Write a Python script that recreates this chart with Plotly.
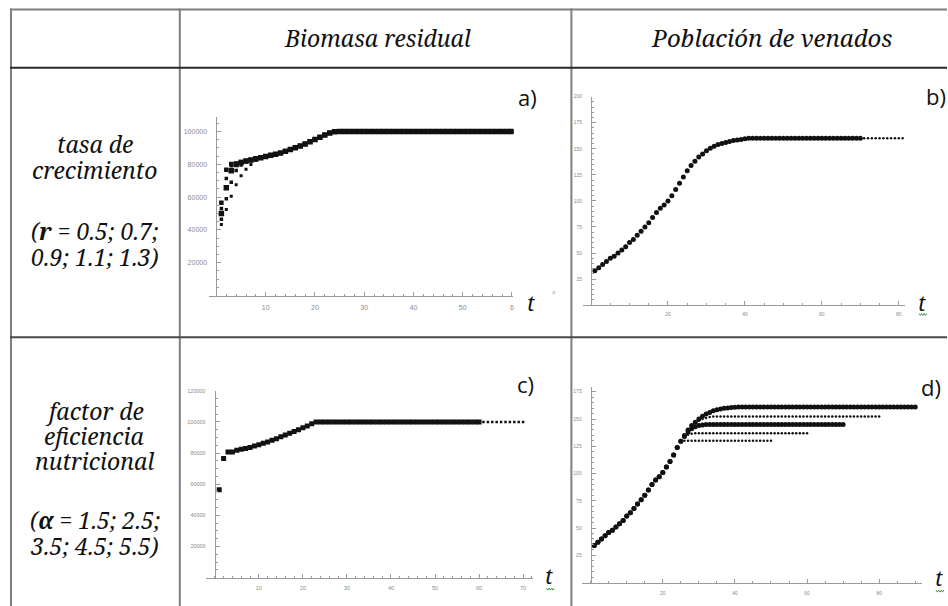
import plotly.graph_objects as go

W, H = 948, 606

# ---------------- DATA ----------------
# Panel a) Biomasa residual vs t, r = 0.5 .. 1.3
a_r_labels = ["r=0.5", "r=0.7", "r=0.9", "r=1.1", "r=1.3"]
a_early = [
    [43300, 52400, 60500, 67500, 73000, 77000, 79800, 82300, 83700],
    [46500, 59000, 69000, 76200, 79500, 81500],
    [50000, 65700, 76000, 79800, 81000],
    [53000, 71300, 79000, 80400],
    [56600, 76600, 80200],
]
a_common_t4_t24 = [80500, 81300, 82000, 82600, 83300, 84000, 84700, 85400, 86100,
                   86900, 87900, 88900, 90000, 91100, 92400, 93700, 95000, 96400,
                   97800, 99000, 99800]
a_plateau = 100000
a_t_end = 60

# Panel b) Población de venados, r variations
b_rise_t1_t40 = [33, 36, 39, 42, 45, 47, 50, 53, 56, 60, 63, 67, 71, 75, 79, 84, 89, 93,
                 96, 100, 105, 111, 117, 123, 129, 134, 138, 142, 145, 148, 150.5, 152.5,
                 154, 155, 156, 157, 158, 158.5, 159, 159.5]
b_plateau = 160
b_bold_end = 70
b_dot_end = 90

# Panel c) Biomasa residual, alpha variations
c_rise_t1_t23 = [56400, 76500, 80700, 80700, 81800, 82400, 82900, 83500, 84600, 85400,
                 86300, 87100, 88200, 89200, 90500, 91600, 92700, 93900, 95000, 96300,
                 97300, 98800, 100000]
c_plateau = 100000
c_bold_end = 60
c_dot_end = 70

# Panel d) Población de venados, alpha = 1.5 .. 5.5
d_rise_t1_t25 = [34, 37, 40, 43, 46, 48, 51, 54, 57, 61, 64, 68, 72, 76, 80, 85, 90, 94,
                 97, 101, 106, 111, 117, 124, 129.6]
d_branch_after_t25 = [
    [135, 140, 144, 147, 150, 152.5, 154.5, 156, 157.5, 158.5, 159.3, 159.8, 160.2, 160.5, 160.8],
    [134.5, 139, 143, 146, 148.5, 150, 151, 151.8],
    [134, 138, 141, 143, 144, 144.5],
    [133, 135.5, 136.5],
    [],
]
d_plateaus = [161, 152.4, 145, 137, 130]
d_end_t = [90, 80, 70, 60, 50]
d_bold = [True, False, True, False, False]

header_cols = ["Biomasa residual", "Población de venados"]
row1_lines = ["tasa de", "crecimiento", "(<b>r</b> = 0.5; 0.7;", "0.9; 1.1; 1.3)"]
row2_lines = ["factor de", "eficiencia", "nutricional", "(<b>α</b> = 1.5; 2.5;", "3.5; 4.5; 5.5)"]


# ---------------- helpers ----------------
def px(x):
    return x / W


def py(y):
    return 1 - y / H


def series(rise, plateau, t_end):
    vals = list(rise) + [plateau] * (t_end - len(rise))
    return list(range(1, t_end + 1)), vals


fig = go.Figure()
INK = "#111111"

# Panel a
a_sizes = [3, 3.5, 5.5, 3.5, 4.5]
for early, sz, lab in zip(a_early, a_sizes, a_r_labels):
    n = len(early)
    rise = list(early) + a_common_t4_t24[(n + 1 - 4):]
    t, v = series(rise, a_plateau, a_t_end)
    fig.add_trace(go.Scatter(x=t, y=v, mode="markers", name=lab, xaxis="x", yaxis="y",
                             marker=dict(symbol="square", size=sz, color=INK, line=dict(width=0))))

# Panel b
t, v = series(b_rise_t1_t40, b_plateau, b_dot_end)
fig.add_trace(go.Scatter(x=t, y=v, mode="markers", xaxis="x2", yaxis="y2",
                         marker=dict(symbol="circle", size=2.5, color=INK, line=dict(width=0))))
t, v = series(b_rise_t1_t40, b_plateau, b_bold_end)
fig.add_trace(go.Scatter(x=t, y=v, mode="markers", xaxis="x2", yaxis="y2",
                         marker=dict(symbol="circle", size=5, color=INK, line=dict(width=0))))

# Panel c
t, v = series(c_rise_t1_t23, c_plateau, c_dot_end)
fig.add_trace(go.Scatter(x=t, y=v, mode="markers", xaxis="x3", yaxis="y3",
                         marker=dict(symbol="square", size=2.5, color=INK, line=dict(width=0))))
t, v = series(c_rise_t1_t23, c_plateau, c_bold_end)
fig.add_trace(go.Scatter(x=t, y=v, mode="markers", xaxis="x3", yaxis="y3",
                         marker=dict(symbol="square", size=5, color=INK, line=dict(width=0))))

# Panel d
for br, pl, te, bold in zip(d_branch_after_t25, d_plateaus, d_end_t, d_bold):
    t, v = series(d_rise_t1_t25 + br, pl, te)
    fig.add_trace(go.Scatter(x=t, y=v, mode="markers", xaxis="x4", yaxis="y4",
                             marker=dict(symbol="circle", size=5 if bold else 2.5,
                                         color=INK, line=dict(width=0))))

AX = "#9a9a9a"
LBL = "#8a8a8a"
TICKFONT = "Liberation Sans"


def axes(xr, xdom, yr, ydom, ypos, xtv, xtt, xminor, ytv, ytt, yminor, fs, xstand, ystand):
    xa = dict(range=xr, domain=[px(xdom[0]), px(xdom[1])], showgrid=False, zeroline=False,
              showline=True, linecolor=AX, linewidth=1, ticks="inside", ticklen=4,
              tickcolor=AX, tickwidth=1, tickmode="array", tickvals=xtv, ticktext=xtt,
              tickfont=dict(size=fs, color=LBL, family=TICKFONT),
              ticklabelstandoff=xstand,
              minor=dict(ticks="inside", ticklen=2, tickcolor=AX, tickmode="linear",
                         tick0=0, dtick=xminor, showgrid=False))
    ya = dict(range=yr, domain=[py(ydom[0]), py(ydom[1])], showgrid=False, zeroline=False,
              showline=True, linecolor=AX, linewidth=1, ticks="inside", ticklen=4,
              tickcolor=AX, tickwidth=1, tickmode="array", tickvals=ytv, ticktext=ytt,
              anchor="free", position=px(ypos),
              tickfont=dict(size=fs, color=LBL, family=TICKFONT),
              ticklabelstandoff=ystand,
              minor=dict(ticks="inside", ticklen=2, tickcolor=AX, tickmode="linear",
                         tick0=0, dtick=yminor, showgrid=False))
    return xa, ya


xa1, ya1 = axes([-1.5, 60.3], [209.3, 514.0], [0, 109000], [294, 114.2], 216.7,
                [10, 20, 30, 40, 50, 60], ["10", "20", "30", "40", "50", "6"], 2,
                [20000, 40000, 60000, 80000, 100000],
                ["20000", "40000", "60000", "80000", "100000"], 5000, 7, 5, 8)
xa2, ya2 = axes([-2.1, 81.5], [583.6, 905.5], [0, 200], [303.7, 94.1], 591.7,
                [20, 40, 60, 80], ["20", "40", "60", "80"], 5,
                [25, 50, 75, 100, 125, 150, 175, 200],
                ["25", "50", "75", "100", "125", "150", "175", "200"], 5, 5, 4, 8)
xa3, ya3 = axes([-2, 72.3], [206.2, 533.8], [0, 120000], [577.5, 389.7], 215,
                [10, 20, 30, 40, 50, 60, 70], ["10", "20", "30", "40", "50", "60", "70"], 2,
                [20000, 40000, 60000, 80000, 100000, 120000],
                ["20000", "40000", "60000", "80000", "100000", "120000"], 5000, 5.5, 5, 8)
xa4, ya4 = axes([-2.3, 91.8], [583.0, 922.7], [0, 179], [582.5, 386.3], 591.3,
                [20, 40, 60, 80], ["20", "40", "60", "80"], 5,
                [25, 50, 75, 100, 125, 150, 175],
                ["25", "50", "75", "100", "125", "150", "175"], 5, 5, 5, 8)

# ---------------- table lines ----------------
shapes = []
GRAY = "#7f7f7f"
DARK = "#2a2a2a"


def hline(y, x0, x1, color, w):
    shapes.append(dict(type="line", xref="paper", yref="paper", x0=px(x0), x1=px(x1),
                       y0=py(y), y1=py(y), line=dict(color=color, width=w)))


def vline(x, y0, y1, color, w):
    shapes.append(dict(type="line", xref="paper", yref="paper", x0=px(x), x1=px(x),
                       y0=py(y0), y1=py(y1), line=dict(color=color, width=w)))


hline(6.5, 10, 948, GRAY, 2)
vline(11, 5.5, 606, GRAY, 2)
vline(180, 5.5, 606, GRAY, 2)
vline(572, 5.5, 606, GRAY, 2)
hline(65, 10, 948, DARK, 2)
hline(336, 10, 948, "#4a4a4a", 2)


def squiggle(xc, yc):
    pts = []
    for i in range(7):
        pts.append((xc - 4 + i * 1.3, yc + (1 if i % 2 else -1)))
    path = "M " + " L ".join(f"{px(x):.5f},{py(y):.5f}" for x, y in pts)
    shapes.append(dict(type="path", xref="paper", yref="paper", path=path,
                       line=dict(color="#3f9a3f", width=1)))


squiggle(924, 313)
squiggle(551, 589)
squiggle(941, 591)

# ---------------- annotations ----------------
ann = []
SERIF_I = "Noto Serif"


def text(x, y, s, size, family=SERIF_I, color=INK, style="italic"):
    ann.append(dict(x=px(x), y=py(y), xref="paper", yref="paper", text=s, showarrow=False,
                    xanchor="center", yanchor="middle",
                    font=dict(family=family, size=size, color=color, style=style)))


text(378, 35, header_cols[0], 23)
text(773, 35, header_cols[1], 24)

for s, y in zip(row1_lines, [142, 168, 229, 255]):
    text(95, y, s, 23)
for s, y in zip(row2_lines, [410, 435, 460, 520, 546]):
    text(95, y, s, 23)

SANS = "Open Sans"
text(528, 94, "a)", 22, family=SANS, style="normal")
text(937, 93, "b)", 22, family=SANS, style="normal")
text(526, 383, "c)", 22, family=SANS, style="normal")
text(932, 386, "d)", 22, family=SANS, style="normal")

text(532, 301, "t", 21)
text(555, 293, "°", 9, family=TICKFONT, color=LBL, style="normal")
text(923, 301, "t", 21)
text(550, 576, "t", 21)
text(940, 578, "t", 21)

fig.update_layout(
    width=W, height=H, margin=dict(l=0, r=0, t=0, b=0, pad=0),
    paper_bgcolor="white", plot_bgcolor="white", showlegend=False,
    xaxis=xa1, yaxis=ya1, xaxis2=dict(xa2, anchor="y2"), yaxis2=ya2,
    xaxis3=dict(xa3, anchor="y3"), yaxis3=ya3, xaxis4=dict(xa4, anchor="y4"), yaxis4=ya4,
    shapes=shapes, annotations=ann,
)
fig.update_layout(xaxis=dict(anchor="y"))

fig.write_html(
    "out.html",
    config={"displayModeBar": False},
    post_script="document.body.style.margin='0';document.body.style.overflow='hidden';",
)
